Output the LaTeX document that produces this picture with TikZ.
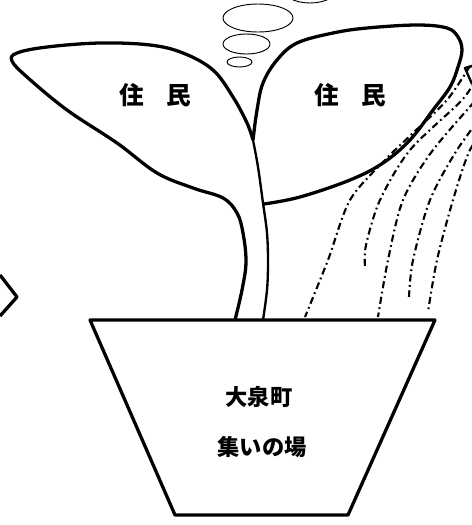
\documentclass[tikz,border=0pt]{standalone}
\usepackage{fontspec}
\newfontfamily\jp{Noto Sans CJK JP}
\begin{document}
\begin{tikzpicture}[x=0.03cm,y=-0.03cm,line join=round,
	outline/.style={line width=2.8pt},
	stem/.style={line width=2pt},
	bubble/.style={line width=0.8pt},
	water/.style={line width=1.8pt,dash pattern=on 6pt off 3pt on 1.5pt off 3pt},
	label/.style={font=\jp\bfseries\fontsize{19}{19}\selectfont,inner sep=0pt}]
	\useasboundingbox (0,0) rectangle (472,525);
	\clip (0,0) rectangle (472,525);
	% thought bubbles
	\draw [bubble] (310,-12) ellipse [x radius=28,y radius=15];
	\draw [bubble] (258,18) ellipse [x radius=35,y radius=14];
	\draw [bubble] (246.5,44) ellipse [x radius=23.5,y radius=10];
	\draw [bubble] (239.5,62) ellipse [x radius=12.5,y radius=5];
	% left leaf and left side of the stem
	\draw [outline] plot [smooth,tension=0.6] coordinates {(253,140) (247,123) (233,97) (213,70) (183,53) (150,45) (100,43) (47,47) (17,53) (12,61) (27,77) (67,110) (117,143) (157,173) (193,188) (223,198) (237,213) (243,233) (246,262) (242,290) (235,320)};
	% right side of the stem
	\draw [stem] plot [smooth,tension=0.6] coordinates {(253,140) (258,167) (263,203) (267,233) (268,262) (267,290) (263,320)};
	% right leaf
	\draw [outline] plot [smooth,tension=0.6] coordinates {(253,140) (257,110) (263,83) (277,60) (297,43) (333,33) (367,28) (417,25) (447,28) (458,37) (462,50) (458,67) (450,87) (433,110) (410,140) (383,163) (350,180) (300,197) (264,204)};
	\node (resL) at (155,95) [label,font=\jp\bfseries\fontsize{21}{21}\selectfont] {住\hspace{0.9em}民};
	\node (resR) at (350,95) [label,font=\jp\bfseries\fontsize{21}{21}\selectfont] {住\hspace{0.9em}民};
	% pot
	\draw [outline] (90,320) -- (435,320) -- (348,515) -- (175,515) -- cycle;
	\node (town) at (259,397) [label] {大泉町};
	\node (place) at (262,447) [label] {集いの場};
	% water from the can
	\draw [water] plot [smooth] coordinates {(470,66) (447,100) (413,133) (385,160) (350,200) (328,260) (305,317)};
	\draw [water] plot [smooth] coordinates {(478,75) (462,100) (410,150) (380,200) (366,245) (365,267)};
	\draw [water] plot [smooth] coordinates {(485,90) (433,150) (403,200) (388,260) (378,317)};
	\draw [water] plot [smooth] coordinates {(490,105) (457,150) (430,200) (413,260) (409,297)};
	\draw [water] plot [smooth] coordinates {(492,120) (470,150) (453,200) (437,260) (428,312)};
	% spout and arrow mark
	\draw [stem] (472,66) -- (465,68) -- (472,84);
	\draw [outline] (0,275) -- (17,297) -- (0,316);
\end{tikzpicture}
\end{document}
